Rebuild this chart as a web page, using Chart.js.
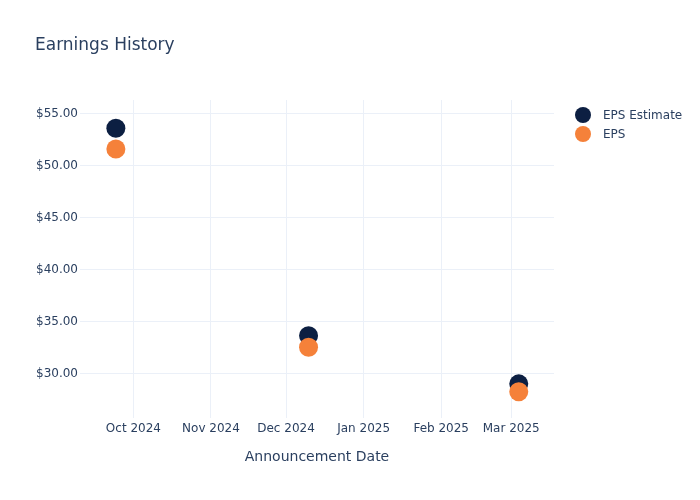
<!DOCTYPE html>
<html>
<head>
<meta charset="utf-8">
<script src="https://cdn.jsdelivr.net/npm/chart.js@4/dist/chart.umd.min.js"></script>
<style>
    body { margin: 0; background: #fff; }
    #wrap { position: relative; width: 700px; height: 500px; }
    .legend-item { position: absolute; left: 575px; height: 16px; font: 12px 'DejaVu Sans', sans-serif; color: #2a3f5f; }
    .legend-color { position: absolute; left: 0; top: 0; width: 16px; height: 16px; border-radius: 50%; }
    .legend-text { position: absolute; left: 28px; top: 0; line-height: 16px; white-space: nowrap; }
</style>
</head>
<body>
<div id="wrap">
    <canvas id="earningsChart" width="700" height="500"></canvas>
    <div id="legendEarnings"></div>
</div>
<script>
// announcement dates and values
const announceDates = ['2024-09-24', '2024-12-10', '2025-03-04'];
const epsEstimate = [53.53, 33.61, 28.99];
const epsActual = [51.54, 32.50, 28.23];

// x axis ticks (month starts) and y axis ticks
const monthTicks = ['2024-10-01', '2024-11-01', '2024-12-01', '2025-01-01', '2025-02-01', '2025-03-01'];
const monthLabels = ['Oct 2024', 'Nov 2024', 'Dec 2024', 'Jan 2025', 'Feb 2025', 'Mar 2025'];
const priceTicks = [30, 35, 40, 45, 50, 55];

const seriesNames = ['EPS Estimate', 'EPS'];
const seriesColors = ['#0c1f42', '#f5813a'];

document.addEventListener('DOMContentLoaded', function() {
    Chart.defaults.font.family = "'DejaVu Sans', sans-serif";
    Chart.defaults.color = '#2a3f5f';

    const toPoints = (vals) => vals.map((v, i) => ({ x: Date.parse(announceDates[i]), y: v }));
    const tickMs = monthTicks.map(d => Date.parse(d));

    const ctx = document.getElementById('earningsChart').getContext('2d');
    new Chart(ctx, {
        type: 'scatter',
        data: {
            datasets: [{
                label: seriesNames[0],
                data: toPoints(epsEstimate),
                backgroundColor: seriesColors[0],
                borderWidth: 0,
                pointRadius: 9.5,
                pointHoverRadius: 9.5,
                order: 1
            }, {
                label: seriesNames[1],
                data: toPoints(epsActual),
                backgroundColor: seriesColors[1],
                borderWidth: 0,
                pointRadius: 9.5,
                pointHoverRadius: 9.5,
                order: 0
            }]
        },
        options: {
            responsive: false,
            animation: false,
            layout: {
                padding: { left: 35, right: 146, top: 0, bottom: 33.8 }
            },
            plugins: {
                legend: { display: false },
                tooltip: { enabled: false },
                title: {
                    display: true,
                    text: 'Earnings History',
                    align: 'start',
                    color: '#2a3f5f',
                    font: { size: 17, weight: 'normal' },
                    padding: { top: 35.8, bottom: 43.8 }
                }
            },
            scales: {
                x: {
                    type: 'linear',
                    min: Date.parse('2024-09-09T16:00:00Z'),
                    max: Date.parse('2025-03-18T02:00:00Z'),
                    afterBuildTicks: (scale) => {
                        scale.ticks = tickMs.map(v => ({ value: v }));
                    },
                    ticks: {
                        padding: 4,
                        maxRotation: 0,
                        autoSkip: false,
                        font: { size: 12 },
                        callback: (value) => monthLabels[tickMs.indexOf(value)]
                    },
                    grid: { color: '#ebf0f8', drawTicks: false },
                    border: { display: false },
                    title: {
                        display: true,
                        text: 'Announcement Date',
                        font: { size: 14 },
                        padding: { top: 9, bottom: 0 }
                    }
                },
                y: {
                    min: 25.71,
                    max: 56.25,
                    afterBuildTicks: (scale) => {
                        scale.ticks = priceTicks.map(v => ({ value: v }));
                    },
                    afterFit: (scale) => { scale.width = 45; },
                    ticks: {
                        padding: 2,
                        labelOffset: 1,
                        font: { size: 12 },
                        callback: (value) => '$' + value.toFixed(2)
                    },
                    grid: { color: '#ebf0f8', drawTicks: false },
                    border: { display: false }
                }
            }
        }
    });

    // legend top-right, like the reference
    const legendTops = [107, 126];
    document.getElementById('legendEarnings').innerHTML = seriesNames.map((name, i) => `
        <div class="legend-item" style="top: ${legendTops[i]}px;">
            <span class="legend-color" style="background-color: ${seriesColors[i]};"></span>
            <span class="legend-text">${name}</span>
        </div>
    `).join('');
});
</script>
</body>
</html>
